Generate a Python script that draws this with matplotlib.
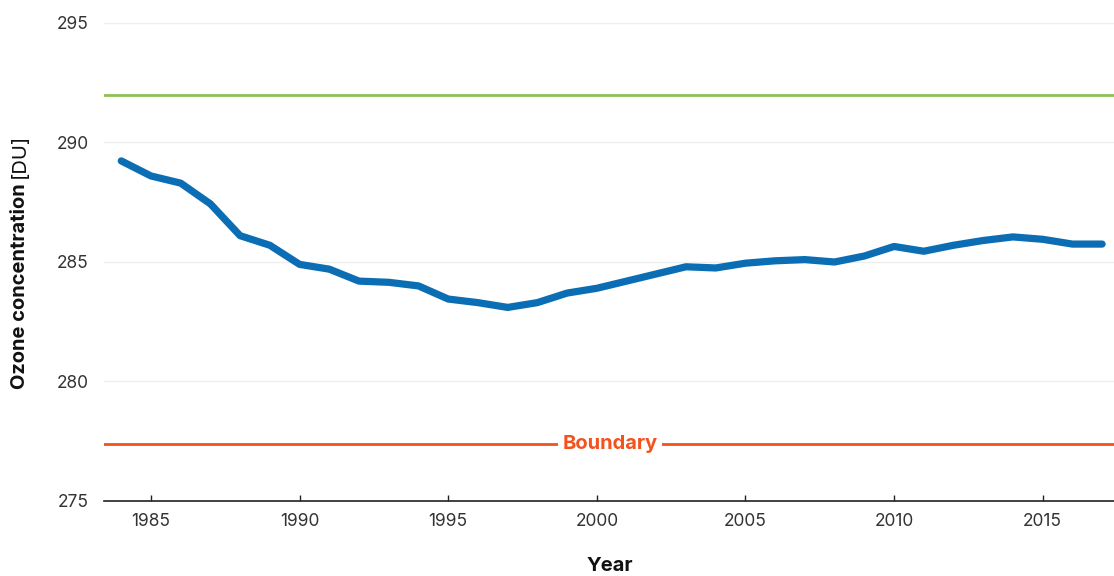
import matplotlib
matplotlib.use("Agg")
import matplotlib.pyplot as plt

plt.rcParams['font.family'] = ['Inter', 'DejaVu Sans']

years = list(range(1984, 2018))
ozone = [289.23, 288.6, 288.3, 287.43, 286.1, 285.7, 284.9, 284.7, 284.2, 284.15,
         284.0, 283.45, 283.3, 283.1, 283.3, 283.7, 283.9, 284.2, 284.5, 284.8,
         284.75, 284.95, 285.05, 285.1, 285.0, 285.25, 285.65, 285.45, 285.7, 285.9,
         286.05, 285.95, 285.75, 285.75]
upper_level = 292.0
boundary_level = 277.4
boundary_label = "Boundary"
yticks = [275, 280, 285, 290, 295]
xticks = [1985, 1990, 1995, 2000, 2005, 2010, 2015]

W, H = 1114, 576
fig = plt.figure(figsize=(W / 100, H / 100), dpi=100)
ax = fig.add_axes([104 / W, 1 - 501 / H, 1 - 104 / W, (501 - 23) / H])

ax.set_xlim(1983.42, 2017.4)
ax.set_ylim(275, 295)
ax.set_yticks(yticks)
ax.set_xticks(xticks)
ax.grid(axis='y', color='#eeeeee', linewidth=1)
ax.set_axisbelow(True)

ax.axhline(upper_level, color='#8cc152', linewidth=2, zorder=2)
ax.axhline(boundary_level, color='#f4511e', linewidth=2, zorder=2)
ax.text(2000.45, boundary_level, boundary_label, color='#f4511e', fontsize=14.5,
        fontweight='bold', ha='center', va='center', zorder=3,
        bbox=dict(facecolor='white', edgecolor='none', pad=3))

ax.plot(years, ozone, color='#0b6db3', linewidth=5.2, solid_capstyle='round',
        solid_joinstyle='round', zorder=4)

for s in ['top', 'right', 'left']:
    ax.spines[s].set_visible(False)
ax.spines['bottom'].set_color('#222222')
ax.spines['bottom'].set_linewidth(1.2)
ax.tick_params(axis='x', direction='in', length=4, width=1, colors='#222222',
               labelsize=12.5, pad=9, labelcolor='#333333')
ax.tick_params(axis='y', length=0, labelsize=12.5, pad=11, labelcolor='#333333')

fig.text(610 / W, 1 - 566 / H, "Year", fontsize=14.5, fontweight='bold',
         ha='center', va='center', color='#111111')

# y label: bold part + normal part
renderer = fig.canvas.get_renderer()
t1 = fig.text(20 / W, 1 - 389 / H, "Ozone concentration ", fontsize=14.5,
              fontweight='bold', rotation=90, rotation_mode='anchor',
              ha='left', va='center', color='#111111')
bb = t1.get_window_extent(renderer)
t2 = fig.text(20 / W, bb.y1 / H, "[DU]", fontsize=14.5, rotation=90,
              rotation_mode='anchor', ha='left', va='center', color='#111111')

fig.savefig("out.png", dpi=100)
